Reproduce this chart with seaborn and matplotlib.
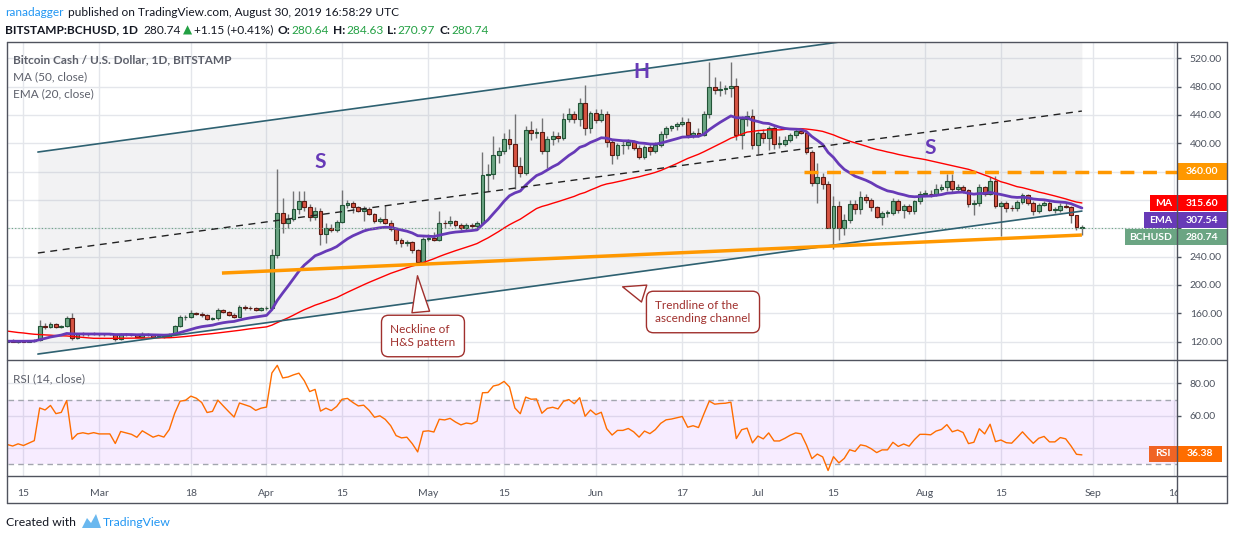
import numpy as np
import pandas as pd
import seaborn as sns
import matplotlib.pyplot as plt
import matplotlib.dates as mdates
from matplotlib.patches import Rectangle, Polygon
from matplotlib.lines import Line2D
from matplotlib.ticker import FuncFormatter

# closes before the visible window (Dec 24 - Feb 11), only used to warm up MA / EMA / RSI
warmup_closes = [185, 170, 172, 153, 170, 163, 168, 160,
                 164, 170, 160, 162, 160, 170, 162, 160, 162, 133, 132, 128, 120, 130, 124, 126,
                 127, 124, 126, 121, 122, 124, 122, 123, 122, 123, 120, 113, 111, 116, 114,
                 116, 118, 113, 114, 115, 113, 112, 122, 122, 124, 120]

# BITSTAMP:BCHUSD daily candles, 2019-02-12 .. 2019-08-30
first_day = "2019-02-12"
opens = [120, 121, 120, 121, 120, 121, 122, 142, 141, 145,
         141, 142, 153, 125, 130, 131, 130, 131, 130, 130,
         130, 123, 131, 130, 129, 127, 131, 129, 127, 128,
         127, 131, 142, 154, 155, 160, 159, 157, 152, 153,
         164, 161, 158, 155, 169, 168, 167, 165, 167, 168,
         242, 302, 287, 293, 307, 319, 310, 296, 305, 272,
         281, 277, 289, 313, 316, 310, 305, 307, 300, 290,
         293, 288, 279, 263, 259, 260, 249, 233, 265, 266,
         264, 288, 287, 290, 285, 281, 284, 283, 287, 355,
         356, 383, 389, 406, 399, 368, 358, 419, 415, 416,
         389, 406, 410, 407, 434, 441, 434, 457, 421, 443,
         433, 441, 402, 384, 397, 397, 402, 394, 381, 395,
         389, 398, 413, 422, 424, 427, 430, 412, 415, 412,
         441, 480, 475, 477, 478, 481, 412, 434, 438, 398,
         415, 407, 422, 399, 399, 405, 412, 417, 415, 388,
         344, 353, 343, 281, 312, 281, 292, 314, 307, 324,
         320, 310, 296, 302, 302, 318, 306, 311, 305, 318,
         329, 329, 328, 335, 338, 347, 335, 338, 334, 314,
         316, 338, 329, 347, 312, 315, 309, 308, 317, 327,
         316, 305, 313, 316, 306, 306, 312, 310, 298, 280.64]
highs = [122, 123, 122, 122, 122, 124, 150, 146, 147, 146,
         144, 156, 160, 132, 133, 132, 133, 132, 132, 132,
         131, 132, 132, 131, 131, 133, 132, 130, 129, 129,
         132, 144, 157, 157, 165, 162, 161, 159, 155, 168,
         166, 163, 160, 172, 171, 170, 169, 169, 170, 250,
         364, 322, 300, 332, 333, 333, 314, 310, 308, 288,
         286, 292, 334, 320, 318, 312, 311, 310, 302, 296,
         313, 291, 281, 266, 263, 262, 251, 268, 272, 274,
         305, 292, 297, 292, 287, 287, 287, 290, 387, 370,
         410, 395, 415, 420, 441, 380, 425, 432, 422, 436,
         410, 418, 416, 443, 450, 446, 464, 482, 446, 448,
         448, 446, 405, 400, 403, 406, 405, 398, 398, 399,
         402, 418, 424, 426, 430, 437, 436, 418, 422, 445,
         515, 494, 488, 482, 515, 492, 438, 446, 448, 418,
         420, 424, 426, 410, 410, 414, 420, 422, 418, 390,
         372, 358, 347, 325, 318, 300, 320, 320, 332, 328,
         323, 312, 305, 306, 323, 321, 314, 314, 320, 333,
         334, 334, 343, 342, 357, 357, 342, 341, 336, 320,
         342, 340, 352, 354, 318, 319, 313, 320, 330, 329,
         318, 316, 318, 318, 310, 315, 315, 312, 299, 284.63]
lows = [119, 119, 118, 119, 119, 120, 121, 138, 139, 139,
        139, 141, 122, 123, 128, 128, 129, 128, 128, 129,
        121, 122, 128, 128, 126, 126, 128, 126, 126, 125,
        126, 130, 141, 151, 153, 157, 155, 150, 150, 151,
        160, 156, 153, 154, 165, 165, 163, 163, 165, 166,
        238, 273, 280, 290, 300, 305, 290, 292, 256, 259,
        274, 275, 287, 308, 302, 303, 290, 298, 287, 287,
        286, 276, 258, 254, 255, 245, 228, 231, 262, 262,
        262, 281, 283, 282, 277, 278, 280, 280, 285, 333,
        350, 372, 385, 392, 335, 352, 355, 405, 408, 385,
        365, 398, 402, 404, 430, 428, 425, 412, 415, 428,
        430, 395, 370, 378, 385, 392, 390, 378, 378, 384,
        386, 395, 408, 418, 419, 424, 408, 408, 409, 410,
        435, 470, 467, 470, 465, 405, 392, 425, 392, 385,
        400, 390, 392, 394, 396, 402, 408, 413, 385, 340,
        315, 335, 280, 251, 264, 270, 287, 300, 300, 316,
        305, 294, 285, 296, 299, 302, 295, 300, 300, 314,
        325, 324, 325, 333, 333, 330, 332, 330, 310, 298,
        312, 325, 327, 308, 269, 303, 304, 305, 314, 313,
        298, 302, 311, 304, 302, 303, 308, 288, 278, 270.97]
closes = [121, 120, 121, 120, 121, 122, 142, 141, 145, 141,
          142, 153, 125, 130, 131, 130, 131, 130, 130, 130,
          123, 131, 130, 129, 127, 131, 129, 127, 128, 127,
          131, 142, 154, 155, 160, 159, 157, 152, 153, 164,
          161, 158, 155, 169, 168, 167, 165, 167, 168, 242,
          302, 287, 293, 307, 319, 310, 296, 305, 272, 281,
          277, 289, 313, 316, 310, 305, 307, 300, 290, 293,
          288, 279, 263, 259, 260, 249, 233, 265, 266, 264,
          288, 287, 290, 285, 281, 284, 283, 287, 355, 356,
          383, 389, 406, 399, 368, 358, 419, 415, 416, 389,
          406, 410, 407, 434, 441, 434, 457, 421, 443, 433,
          441, 402, 384, 397, 397, 402, 394, 381, 395, 389,
          398, 413, 422, 424, 427, 430, 412, 415, 412, 441,
          480, 475, 477, 478, 481, 412, 434, 438, 398, 415,
          407, 422, 399, 399, 405, 412, 417, 415, 388, 344,
          353, 343, 281, 312, 281, 292, 314, 307, 324, 320,
          310, 296, 302, 302, 318, 306, 311, 305, 318, 329,
          329, 328, 335, 338, 347, 335, 338, 334, 314, 316,
          338, 329, 347, 312, 315, 309, 308, 317, 327, 316,
          305, 313, 316, 306, 306, 312, 310, 298, 282, 280.74]

# values printed in the price-scale labels
last_price = 280.74
ma_last = 315.60
ema_last = 307.54
rsi_last = 36.38

# drawings on the chart: (date, price)
channel_upper = [("2019-02-17 16:00", 387.6), ("2019-08-30", 590.0)]
channel_mid = [("2019-02-17 16:00", 245.0), ("2019-08-30", 445.5)]
channel_lower = [("2019-02-17 16:00", 102.3), ("2019-08-30", 304.2)]
neckline = [("2019-03-23 18:00", 216.7), ("2019-08-30", 270.4)]
resistance_start = "2019-07-09 12:00"
resistance_level = 360
pattern_letters = [("S", "2019-04-11", 374), ("H", "2019-06-09 08:00", 501), ("S", "2019-08-02", 393)]
callouts = [("Neckline of\nH&S pattern", ("2019-04-28 22:00", 216.8), ("2019-04-29 23:30", 127.8)),
            ("Trendline of the\nascending channel", ("2019-06-05 11:00", 198.4), ("2019-06-20 20:00", 161.7))]

tick_dates = ["2019-02-15", "2019-03-01", "2019-03-18", "2019-04-01", "2019-04-15", "2019-05-01",
              "2019-05-15", "2019-06-01", "2019-06-17", "2019-07-01", "2019-07-15", "2019-08-01",
              "2019-08-15", "2019-09-01", "2019-09-16"]
tick_labels = ["15", "Mar", "18", "Apr", "15", "May", "15", "Jun", "17", "Jul", "15", "Aug",
               "15", "Sep", "16"]
price_ticks = [120, 160, 200, 240, 280, 320, 360, 400, 440, 480, 520]
rsi_ticks = [40, 60, 80]
# scale values that sit under a coloured price label
covered_price_ticks = [280, 320, 360]
covered_rsi_ticks = [40]

# indicators
n = len(closes)
all_close = pd.Series(warmup_closes + closes, dtype=float)
ma50 = all_close.rolling(50).mean().iloc[-n:].to_numpy()
ema20 = all_close.ewm(span=20, adjust=False).mean().iloc[-n:].to_numpy()
delta = all_close.diff()
gain = delta.clip(lower=0).ewm(alpha=1 / 14, adjust=False).mean()
loss = (-delta.clip(upper=0)).ewm(alpha=1 / 14, adjust=False).mean()
rsi = (100 - 100 / (1 + gain / loss)).iloc[-n:].to_numpy()

dates = pd.date_range(first_day, periods=n, freq="D")
xd = mdates.date2num(dates)
o = np.array(opens, float)
h = np.array(highs, float)
l = np.array(lows, float)
c = np.array(closes, float)


def dn(s):
    return mdates.date2num(pd.Timestamp(s))


def scale_fmt(hidden):
    return FuncFormatter(lambda v, pos: "" if round(v) in hidden else "%.2f" % v)


sns.set_theme(style="white")
plt.rcParams['font.family'] = ['Lato', 'DejaVu Sans']

W, H = 1234, 540
fig = plt.figure(figsize=(W / 100, H / 100), dpi=100)
fig.patch.set_facecolor("white")
ax = fig.add_axes([7.5 / W, 1 - 360 / H, (1177.3 - 7.5) / W, (360 - 42) / H])
ax_rsi = fig.add_axes([7.5 / W, 1 - 476 / H, (1177.3 - 7.5) / W, (476 - 360) / H], sharex=ax)

axis_c = "#4c525e"
grid_c = "#e4e6eb"
x_left = dn("2019-02-15") - 2.96
x_right = dn("2019-02-15") + 213.67

for a in (ax, ax_rsi):
    a.set_facecolor("white")
    for s in a.spines.values():
        s.set_visible(False)
    a.set_axisbelow(True)
    a.grid(True, color=grid_c, lw=1)
    a.yaxis.tick_right()
    a.tick_params(axis="y", colors=axis_c, labelsize=7.5, length=3, width=1, pad=6)

ax.set_xlim(x_left, x_right)
ax.set_ylim(93.9, 543.0)
ax.set_yticks(price_ticks)
ax.yaxis.set_major_formatter(scale_fmt(covered_price_ticks))
ax.tick_params(axis="x", length=0, labelbottom=False)

ax_rsi.set_ylim(22.8, 94.4)
ax_rsi.set_yticks(rsi_ticks)
ax_rsi.yaxis.set_major_formatter(scale_fmt(covered_rsi_ticks))
ax_rsi.set_xticks([dn(t) for t in tick_dates])
ax_rsi.set_xticklabels(tick_labels)
ax_rsi.tick_params(axis="x", colors=axis_c, labelsize=7.5, length=4, width=1, pad=5)

# ascending channel
ax.fill_between([dn(channel_lower[0][0]), dn(channel_lower[1][0])],
                [channel_lower[0][1], channel_lower[1][1]],
                [channel_upper[0][1], channel_upper[1][1]],
                color="#9598a1", alpha=0.12, lw=0, zorder=0.6)
for line, ls, col, lw in [(channel_upper, "-", "#2e6171", 1.2),
                          (channel_lower, "-", "#2e6171", 1.2),
                          (channel_mid, (0, (5, 4)), "#222222", 1.0)]:
    ax.plot([dn(p[0]) for p in line], [p[1] for p in line], ls=ls, color=col, lw=lw, zorder=5)

# candles
up = c >= o
ax.vlines(xd, l, h, color="#737375", lw=1, zorder=2)
ax.bar(xd, np.maximum(np.abs(c - o), 0.7), bottom=np.minimum(o, c), width=0.68,
       color=np.where(up, "#6ba583", "#d75442"), edgecolor=np.where(up, "#225437", "#5b1a13"),
       linewidth=0.8, zorder=3)

sns.lineplot(x=xd, y=ma50, ax=ax, color="#ff0000", linewidth=1, zorder=4)
sns.lineplot(x=xd, y=ema20, ax=ax, color="#673ab7", linewidth=2, zorder=4)

ax.axhline(last_price, color="#6ba583", lw=0.8, ls=(0, (1, 2)), zorder=4)
ax.plot([dn(p[0]) for p in neckline], [p[1] for p in neckline], color="#ff9800", lw=2.5,
        solid_capstyle="butt", zorder=5)
ax.hlines(resistance_level, dn(resistance_start), x_right, color="#ff9800", lw=2.5,
          linestyles=[(0, (4, 2.5))], zorder=5)

for letter, d, p in pattern_letters:
    ax.text(dn(d), p, letter, fontsize=15, fontweight="bold", color="#673ab7",
            ha="center", va="center", zorder=6)

callout_c = "#a0302d"
for txt, tip, at in callouts:
    ax.annotate(txt, xy=(dn(tip[0]), tip[1]), xytext=(dn(at[0]), at[1]),
                ha="center", va="center", multialignment="left", fontsize=8.5, color=callout_c,
                bbox=dict(boxstyle="round,pad=0.75,rounding_size=0.6", fc="white", ec=callout_c, lw=1),
                arrowprops=dict(arrowstyle="wedge,tail_width=1.5,shrink_factor=0.5",
                                fc="white", ec=callout_c, lw=1),
                zorder=7, annotation_clip=False)

# RSI panel
ax_rsi.axhspan(30, 70, color="#9915ff", alpha=0.08, lw=0, zorder=0.6)
for lvl in (30, 70):
    ax_rsi.axhline(lvl, color="#a3a6af", lw=1, ls=(0, (4, 3)), zorder=1)
sns.lineplot(x=xd, y=rsi, ax=ax_rsi, color="#ff6d00", linewidth=1, zorder=3)


# figure-level pieces, positioned in pixels from the top-left
def fx(x):
    return x / W


def fy(y):
    return 1 - y / H


def fig_rect(x0, y0, x1, y1, color, z=8):
    fig.add_artist(Rectangle((fx(x0), fy(y1)), (x1 - x0) / W, (y1 - y0) / H,
                             transform=fig.transFigure, fc=color, ec="none", zorder=z))


def fig_line(x0, y0, x1, y1):
    fig.add_artist(Line2D([fx(x0), fx(x1)], [fy(y0), fy(y1)], transform=fig.transFigure,
                          color="#50535e", lw=1, zorder=10))


def to_px(a, v):
    return H - a.transData.transform((x_right, v))[1]


def scale_label(y, value_text, color, tag=None, tag_w=0, tag_color=None, right=1227):
    fig_rect(1177.8, y - 8.3, right, y + 8.3, color)
    fig.text(fx((1177.8 + right) / 2), fy(y), value_text, color="white", fontsize=7.5,
             fontweight="bold", ha="center", va="center", zorder=9)
    if tag:
        fig_rect(1176.8 - tag_w, y - 8.3, 1176.8, y + 8.3, tag_color or color)
        fig.text(fx(1176.8 - tag_w / 2), fy(y), tag, color="white", fontsize=7.5,
                 fontweight="bold", ha="center", va="center", zorder=9)


y_ma = to_px(ax, ma_last)
y_ema = max(to_px(ax, ema_last), y_ma + 17)
y_bch = max(to_px(ax, last_price), y_ema + 17)
scale_label(to_px(ax, resistance_level), "%.2f" % resistance_level, "#ff9800")
scale_label(y_ma, "%.2f" % ma_last, "#ff0000", "MA", 27)
scale_label(y_ema, "%.2f" % ema_last, "#673ab7", "EMA", 33)
scale_label(y_bch, "%.2f" % last_price, "#6ba583", "BCHUSD", 52)
scale_label(to_px(ax_rsi, rsi_last), "%.2f" % rsi_last, "#ff6d00", "RSI", 27.8, "#f06424", 1222)

# hide the part of the last date label that runs under the price scale
fig_rect(1178, 477, 1226, 502, "white", z=8)

# frame
fig_line(7, 42, 1227, 42)
fig_line(7, 503, 1227, 503)
fig_line(7, 42, 7, 503)
fig_line(1227, 42, 1227, 503)
fig_line(7, 360, 1227, 360)
fig_line(7, 476, 1227, 476)
fig_line(1177.3, 42, 1177.3, 503)

# legends
legend_c = "#5d606b"
fig.text(fx(13), fy(60), "Bitcoin Cash / U.S. Dollar, 1D, BITSTAMP", color=legend_c, fontsize=8.5,
         fontweight="bold", va="center")
fig.text(fx(13), fy(77), "MA (50, close)", color=legend_c, fontsize=8.5, va="center")
fig.text(fx(13), fy(94), "EMA (20, close)", color=legend_c, fontsize=8.5, va="center")
fig.text(fx(13), fy(379), "RSI (14, close)", color=legend_c, fontsize=8.5, va="center")

# header
renderer = fig.canvas.get_renderer()


def chain(x, y, parts, size=8.6):
    for s, color, weight, gap in parts:
        t = fig.text(fx(x), fy(y), s, color=color, fontsize=size, fontweight=weight,
                     ha="left", va="center")
        x = t.get_window_extent(renderer=renderer).x1 + gap


dark = "#131722"
green = "#22a043"
chain(5, 12, [("ranadagger", "#2196f3", "normal", 4),
              ("published on TradingView.com, August 30, 2019 16:58:29 UTC", dark, "normal", 0)])
chain(5, 30, [("BITSTAMP:BCHUSD, 1D", dark, "bold", 5),
              ("280.74", dark, "normal", 3),
              ("▲", green, "normal", 2),
              ("+1.15 (+0.41%)", dark, "normal", 4),
              ("O:", dark, "bold", 1), ("280.64", green, "normal", 4),
              ("H:", dark, "bold", 1), ("284.63", green, "normal", 4),
              ("L:", dark, "bold", 1), ("270.97", green, "normal", 4),
              ("C:", dark, "bold", 1), ("280.74", green, "normal", 0)])

# footer
fig.text(fx(6), fy(522), "Created with", color=dark, fontsize=8.8, va="center")
fig.add_artist(Polygon([(fx(82), fy(528)), (fx(87), fy(518)), (fx(91), fy(523)),
                        (fx(96), fy(514)), (fx(101), fy(528))], closed=True,
                       transform=fig.transFigure, fc="#6ab8ef", ec="none"))
fig.text(fx(103), fy(522), "TradingView", color="#2196f3", fontsize=8.8, va="center")

fig.savefig("out.png", dpi=100)
